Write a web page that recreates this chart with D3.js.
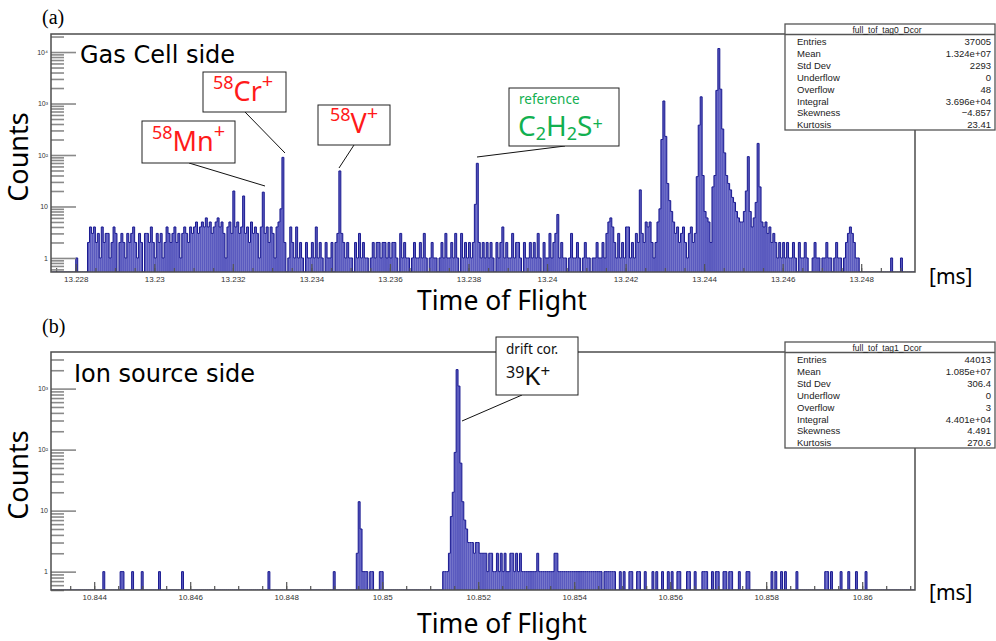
<!DOCTYPE html>
<html lang="en">
<head>
<meta charset="UTF-8">
<title>Time of Flight spectra</title>
<script src="https://d3js.org/d3.v7.min.js"></script>
<style>
  body { margin: 0; background: #fff; }
  svg { display: block; font-family: "Liberation Sans", Arial, sans-serif; }
</style>
</head>
<body>
<script>
// (a) gas cell side, bins of 0.00005 ms starting at 13.2274 ms
const startA = 13.2274;
const binWidthA = 0.00005;
const countsA = [
  0,0,0,0,0,0,0,0,0,0, 0,0,1,0,0,0,0,0,2,4,
  3,4,2,3,1,4,2,3,3,1, 2,4,3,0,2,3,2,1,3,2,
  3,4,2,1,3,2,0,3,3,2, 4,2,1,3,2,3,1,2,4,3,
  2,3,4,2,3,1,3,4,3,2, 4,3,4,5,3,4,5,4,6,4,
  5,3,4,5,6,4,5,3,1,4, 5,3,20,4,5,3,4,16,3,4,
  2,5,3,4,3,1,4,19,3,4, 2,4,3,1,4,5,9,90,2,0,
  1,4,2,1,4,1,2,1,0,2, 1,1,2,1,4,1,2,1,0,2,
  1,1,2,0,2,3,49,3,2,1, 2,1,1,0,2,1,3,1,2,1,
  1,0,1,2,1,2,2,1,2,2, 1,2,1,2,2,1,0,3,1,2,
  1,1,0,1,2,1,1,2,1,3, 1,0,1,2,1,1,0,1,2,1,
  3,1,1,2,1,3,1,0,3,1, 2,1,2,1,2,11,69,2,1,2,
  1,2,1,2,1,0,2,1,2,4, 1,2,1,1,3,1,2,2,1,0,
  2,1,1,2,1,2,1,3,1,0, 2,1,1,3,1,2,3,7,1,2,
  1,1,0,1,3,1,1,2,1,0, 1,2,1,1,0,1,1,2,1,1,
  2,1,3,5,6,4,2,1,3,1, 2,1,4,4,1,2,1,3,2,21,
  3,2,5,4,5,2,1,2,5,9, 200,1120,230,28,13,8,5,3,4,2,
  3,4,2,1,3,4,2,3,38,380, 1350,40,8,6,5,2,24,40,1800,11700,
  1900,320,110,40,28,21,15,12,8,6, 5,5,8,20,93,8,4,6,12,168,
  24,5,4,5,3,4,2,3,2,1, 2,1,2,1,2,1,1,2,1,0,
  2,1,1,2,1,0,0,1,2,1, 1,0,1,1,2,1,1,0,1,2,
  1,1,0,1,2,3,4,3,2,1, 1,0,0,0,0,0,0,0,0,0,
  0,0,0,0,0,0,0,1,0,0, 0,0,1,0,0,0,0,0,0,0
];
const xTicksA = [13.228, 13.23, 13.232, 13.234, 13.236, 13.238, 13.24, 13.242, 13.244, 13.246, 13.248];
const statsA = ["37005", "1.324e+07", "2293", "0", "48", "3.696e+04", "\u22124.857", "23.41"];

// (b) ion source side, bins of 0.00004 ms starting at 10.8431 ms
const startB = 10.8431;
const binWidthB = 0.00004;
const countsB = [
  0,0,0,0,0,0,0,0,0,0, 0,0,0,0,0,0,0,0,0,0, 0,0,0,0,0,0,0,1,0,0,
  0,0,0,0,0,0,1,1,0,0, 0,0,1,0,0,0,0,1,0,0, 0,0,0,0,0,0,1,0,0,0,
  0,0,0,0,0,0,0,0,1,0, 0,0,0,0,0,0,0,0,0,0, 0,0,0,0,0,0,0,0,0,0,
  0,0,0,0,0,0,0,0,0,0, 0,0,0,0,0,0,0,0,0,0, 0,0,0,1,0,0,0,0,0,0,
  0,0,0,0,0,0,0,0,0,0, 0,0,0,0,0,0,0,0,0,0, 0,0,0,0,0,0,0,1,0,0,
  0,0,0,0,0,0,0,0,0,2, 14,5,1,1,1,0,1,1,0,0, 0,1,1,0,0,0,0,0,0,0,
  0,0,0,0,0,0,0,0,0,0, 0,0,0,0,0,0,0,0,0,0, 0,0,0,0,1,1,1,2,8,20,
  90,2050,1100,60,14,7,5,3,3,3, 2,3,3,2,2,2,2,1,2,2, 1,1,2,1,2,1,2,1,1,2,
  2,1,2,1,2,1,1,1,1,1, 1,1,1,2,1,1,1,1,1,1, 1,1,2,2,1,1,1,1,1,1,
  1,1,1,1,1,1,1,1,1,1, 1,1,1,1,1,1,1,0,1,1, 1,1,1,1,0,0,1,0,1,0,
  0,1,1,0,0,1,1,0,0,1, 0,0,0,1,0,1,0,0,1,0, 0,1,0,1,0,0,1,1,0,0,
  0,1,1,0,0,1,0,0,0,1, 1,1,0,0,1,0,1,1,0,0, 1,1,0,1,1,0,0,0,1,0,
  0,0,1,1,0,0,0,0,0,0, 0,0,0,0,0,1,0,1,0,0, 1,0,1,0,0,0,0,0,1,0,
  0,0,0,0,0,0,0,0,0,0, 0,0,0,1,1,0,1,0,0,0, 0,1,0,0,0,1,0,0,0,1,
  0,0,0,0,1,0,0,0,0,0, 0,0,0,0,0,0,0,0,0,0, 0,0,0,0,0,0,0,0,0,0
];
const xTicksB = [10.844, 10.846, 10.848, 10.85, 10.852, 10.854, 10.856, 10.858, 10.86];
const statsB = ["44013", "1.085e+07", "306.4", "0", "3", "4.401e+04", "4.491", "270.6"];

const statNames = ["Entries", "Mean", "Std Dev", "Underflow", "Overflow", "Integral", "Skewness", "Kurtosis"];
const yDecades = [1, 10, 100, 1000, 10000];

const width = 996, height = 641;
const left = 51, right = 915;
const histFill = "rgba(32,32,168,0.74)";
const histLine = "#1a1a90";
const jp = '"Noto Sans", "Noto Sans CJK JP", sans-serif';
const wide = '"DejaVu Sans", "Noto Sans", sans-serif';

const svg = d3.select("body").append("svg")
    .attr("width", width)
    .attr("height", height);

function richText(x, y, parts, color) {
    const t = svg.append("text")
        .attr("x", x).attr("y", y)
        .attr("fill", color)
        .style("font-family", jp);
    parts.forEach(p => {
        t.append("tspan")
            .attr("font-size", p.s)
            .attr("dy", p.dy || 0)
            .text(p.t);
    });
}

function drawPanel(p) {
    const x = d3.scaleLinear().domain(p.xDomain).range([left, right]);
    const y = d3.scaleLog().domain(p.yDomain).range([p.bottom, p.top]);

    const clipId = "clip-" + p.id;
    svg.append("clipPath").attr("id", clipId)
        .append("rect")
        .attr("x", left).attr("y", p.top)
        .attr("width", right - left).attr("height", p.bottom - p.top);

    const bins = p.counts.map((c, i) => ({
        x0: p.start + i * p.binWidth,
        x1: p.start + (i + 1) * p.binWidth,
        c: c
    }));

    const g = svg.append("g").attr("clip-path", `url(#${clipId})`);

    g.selectAll("rect.bin")
        .data(bins.filter(d => d.c > 0))
        .enter()
        .append("rect")
        .attr("class", "bin")
        .attr("x", d => x(d.x0))
        .attr("width", d => x(d.x1) - x(d.x0))
        .attr("y", d => y(d.c))
        .attr("height", d => p.bottom - y(d.c))
        .attr("fill", histFill);

    // histogram outline, empty bins drawn on the lower edge
    const pts = bins.map(d => [d.x0, Math.max(d.c, p.yDomain[0])]);
    pts.push([bins[bins.length - 1].x1, Math.max(bins[bins.length - 1].c, p.yDomain[0])]);
    g.append("path")
        .attr("d", d3.line()
            .x(d => x(d[0]))
            .y(d => y(d[1]))
            .curve(d3.curveStepAfter)(pts))
        .attr("fill", "none")
        .attr("stroke", histLine)
        .attr("stroke-width", 1);

    // x axis ticks (inside frame)
    const minor = d3.range(Math.ceil(p.xDomain[0] / 0.0005), Math.floor(p.xDomain[1] / 0.0005) + 1)
        .map(k => k * 0.0005);
    const xMinor = svg.append("g")
        .attr("transform", `translate(0,${p.bottom})`)
        .call(d3.axisBottom(x).tickValues(minor).tickSize(-4).tickFormat(""));
    const xMajor = svg.append("g")
        .attr("transform", `translate(0,${p.bottom})`)
        .call(d3.axisBottom(x).tickValues(p.xTicks).tickSize(-8).tickPadding(4)
            .tickFormat(d => String(+d.toFixed(3))));
    [xMinor, xMajor].forEach(a => {
        a.select(".domain").remove();
        a.selectAll("line").attr("stroke", "#555").attr("stroke-width", 1.2);
    });
    xMajor.selectAll("text").attr("font-size", 8).attr("fill", "#333")
        .style("font-family", '"Liberation Sans", Arial, sans-serif');

    // y axis ticks (log)
    const yMinorVals = [];
    for (let e = -1; e <= 4; e++) {
        for (let m = 2; m <= 9; m++) {
            const v = m * Math.pow(10, e);
            if (v >= p.yDomain[0] && v <= p.yDomain[1]) yMinorVals.push(v);
        }
    }
    const sup = { 2: "\u00b2", 3: "\u00b3", 4: "\u2074" };
    const yMinor = svg.append("g")
        .attr("transform", `translate(${left},0)`)
        .call(d3.axisLeft(y).tickValues(yMinorVals).tickSize(-13).tickFormat(""));
    const yMajor = svg.append("g")
        .attr("transform", `translate(${left},0)`)
        .call(d3.axisLeft(y).tickValues(yDecades.filter(v => v <= p.yDomain[1]))
            .tickSize(-25).tickPadding(3)
            .tickFormat(d => d === 1 ? "1" : d === 10 ? "10" : "10" + sup[Math.round(Math.log10(d))]));
    [yMinor, yMajor].forEach(a => {
        a.select(".domain").remove();
        a.selectAll("line").attr("stroke", "#8a8a8a").attr("stroke-width", 1.6);
    });
    yMajor.selectAll("text").attr("font-size", 7).attr("fill", "#333")
        .style("font-family", '"Liberation Sans", Arial, sans-serif');

    // frame
    svg.append("rect")
        .attr("x", left).attr("y", p.top)
        .attr("width", right - left).attr("height", p.bottom - p.top)
        .attr("fill", "none")
        .attr("stroke", "#4d4d4d")
        .attr("stroke-width", 1.5);

    // stats box
    const bx = 785, bw = 210, by = p.statTop, bh = 106;
    svg.append("rect")
        .attr("x", bx).attr("y", by).attr("width", bw).attr("height", bh)
        .attr("fill", "#fff").attr("stroke", "#555").attr("stroke-width", 1.3);
    svg.append("line")
        .attr("x1", bx).attr("x2", bx + bw)
        .attr("y1", by + 10.5).attr("y2", by + 10.5)
        .attr("stroke", "#555").attr("stroke-width", 1.3);
    svg.append("text")
        .attr("x", bx + bw / 2 - 3).attr("y", by + 8.5)
        .attr("text-anchor", "middle").attr("font-size", 8.5).attr("fill", "#222")
        .text(p.statTitle);
    statNames.forEach((n, k) => {
        const yy = by + 21 + k * 11.9;
        svg.append("text").attr("x", bx + 12).attr("y", yy)
            .attr("font-size", 9.5).attr("fill", "#222").text(n);
        svg.append("text").attr("x", bx + bw - 4).attr("y", yy)
            .attr("text-anchor", "end").attr("font-size", 9.5).attr("fill", "#222").text(p.stats[k]);
    });

    // axis titles
    svg.append("text")
        .attr("transform", `translate(28,${p.countsY}) rotate(-90)`)
        .attr("text-anchor", "middle")
        .attr("font-size", 27)
        .style("font-family", jp)
        .text("Counts");
    svg.append("text")
        .attr("x", 502).attr("y", p.titleY)
        .attr("text-anchor", "middle")
        .attr("font-size", 26.5)
        .style("font-family", jp)
        .text("Time of Flight");
    svg.append("text")
        .attr("x", 929).attr("y", p.msY)
        .attr("font-size", 21)
        .style("font-family", jp)
        .text("[ms]");
    svg.append("text")
        .attr("x", 42).attr("y", p.labelY)
        .attr("font-size", 20)
        .style("font-family", '"Liberation Serif", "Times New Roman", serif')
        .text(p.label);
    svg.append("text")
        .attr("x", p.nameX).attr("y", p.nameY)
        .attr("font-size", 24)
        .style("font-family", wide)
        .text(p.name);
}

function callout(bx, by, bw, bh, lx1, ly1, lx2, ly2) {
    svg.append("line")
        .attr("x1", lx1).attr("y1", ly1).attr("x2", lx2).attr("y2", ly2)
        .attr("stroke", "#111").attr("stroke-width", 1);
    svg.append("rect")
        .attr("x", bx).attr("y", by).attr("width", bw).attr("height", bh)
        .attr("fill", "#fff").attr("stroke", "#222").attr("stroke-width", 1);
}

drawPanel({
    id: "a", label: "(a)", labelY: 24, name: "Gas Cell side", nameX: 80, nameY: 63,
    top: 34, bottom: 272, xDomain: [13.22737, 13.24937], yDomain: [0.534, 22400],
    start: startA, binWidth: binWidthA, counts: countsA, xTicks: xTicksA,
    statTop: 24, statTitle: "full_tof_tag0_Dcor", stats: statsA,
    countsY: 157, titleY: 310, msY: 284
});
drawPanel({
    id: "b", label: "(b)", labelY: 333, name: "Ion source side", nameX: 74, nameY: 382,
    top: 352, bottom: 590, xDomain: [10.8431, 10.8611], yDomain: [0.5, 3980],
    start: startB, binWidth: binWidthB, counts: countsB, xTicks: xTicksB,
    statTop: 342, statTitle: "full_tof_tag1_Dcor", stats: statsB,
    countsY: 475, titleY: 633, msY: 600
});

// annotations, panel (a)
const red = "#ff1a1a", green = "#12b050";
callout(142, 121, 93, 42, 189, 163, 265, 186);
richText(152, 151, [{t: "58", s: 18, dy: -12}, {t: "Mn", s: 27, dy: 12}, {t: "+", s: 20, dy: -13}], red);
callout(203, 72, 83, 40, 245, 112, 285, 153);
richText(213, 101, [{t: "58", s: 18, dy: -12}, {t: "Cr", s: 27, dy: 12}, {t: "+", s: 20, dy: -13}], red);
callout(318, 105, 72, 40, 354, 145, 339, 168);
richText(330, 133, [{t: "58", s: 18, dy: -12}, {t: "V", s: 27, dy: 12}, {t: "+", s: 20, dy: -13}], red);
callout(509, 88, 110, 58, 565, 146, 477, 157);
richText(519, 104, [{t: "reference", s: 13.5}], green);
richText(518, 136, [{t: "C", s: 28}, {t: "2", s: 18, dy: 4}, {t: "H", s: 28, dy: -4}, {t: "2", s: 18, dy: 4}, {t: "S", s: 28, dy: -4}, {t: "+", s: 18, dy: -6}], green);

// annotation, panel (b)
callout(496, 337, 82, 58, 522, 395, 462, 421);
richText(506, 354, [{t: "drift cor.", s: 13.5}], "#111");
richText(506, 385, [{t: "39", s: 16, dy: -7}, {t: "K", s: 26, dy: 7}, {t: "+", s: 17, dy: -8}], "#111");
</script>
</body>
</html>
